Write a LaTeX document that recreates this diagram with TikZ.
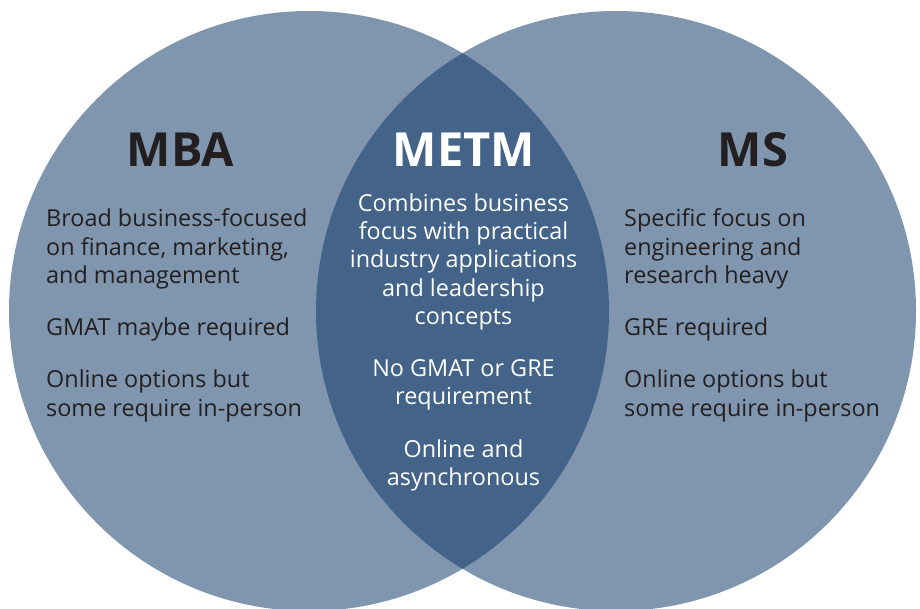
\documentclass[tikz,border=0pt]{standalone}
\usepackage{fontspec}
\setmainfont{Open Sans}
\definecolor{outerfill}{RGB}{127,150,174}
\definecolor{lensfill}{RGB}{67,100,136}
\definecolor{darktext}{RGB}{35,31,32}
\begin{document}
\begin{tikzpicture}[x=1pt,y=-1pt,
  title/.style={inner sep=0pt,anchor=base,font=\fontsize{47}{50}\selectfont\bfseries},
  body/.style={inner sep=0pt,font=\fontsize{23.4}{28.3}\selectfont},
  outertext/.style={body,anchor=base west,align=left,text=darktext},
  innertext/.style={body,anchor=base,align=center,text=white}]
\useasboundingbox (0,0) rectangle (920,608);
\coordinate (cl) at (309,311);
\coordinate (cr) at (616,311);
\fill[outerfill] (cl) circle[radius=300];
\fill[outerfill] (cr) circle[radius=300];
\begin{scope}
  \clip (cl) circle[radius=300];
  \fill[lensfill] (cr) circle[radius=300];
\end{scope}
\node[title,text=darktext] (mba) at (180.5,166) {MBA};
\node[title,text=white] (metm) at (464,166) {METM};
\node[title,text=darktext] (ms) at (753,166) {MS};
% anchors are at the baseline of the last line
\node[outertext] (l1) at (46,283.3) {Broad business-focused\\on finance, marketing,\\and management};
\node[outertext] (l2) at (46,335.5) {GMAT maybe required};
\node[outertext] (l3) at (46,416) {Online options but\\some require in-person};
\node[innertext] (m1) at (463.5,324.5) {Combines business\\focus with practical\\industry applications\\and leadership\\concepts};
\node[innertext] (m2) at (463.5,404.5) {No GMAT or GRE\\requirement};
\node[innertext] (m3) at (463.5,485.5) {Online and\\asynchronous};
\node[outertext] (r1) at (624,283.3) {Specific focus on\\engineering and\\research heavy};
\node[outertext] (r2) at (624,335.5) {GRE required};
\node[outertext] (r3) at (624,416) {Online options but\\some require in-person};
\end{tikzpicture}
\end{document}
